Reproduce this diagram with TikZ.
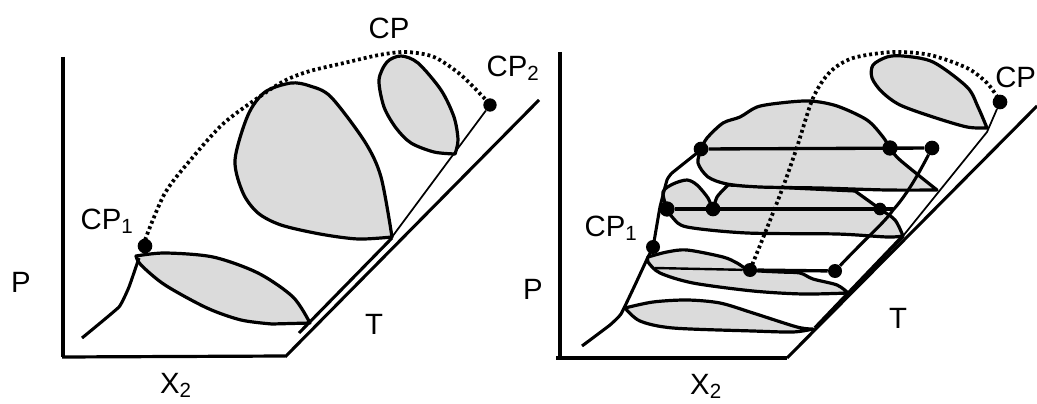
\documentclass[tikz,border=0pt]{standalone}
\usepackage{fontspec}
\setmainfont{Liberation Sans}
\usepackage{tikz}
\usetikzlibrary{positioning}

\begin{document}
\begin{tikzpicture}[x=0.75pt, y=-0.75pt,
    axisline/.style={line width=2.8pt, black},
    baseline/.style={line width=2.4pt, black},
    diagline/.style={line width=2.3pt, black},
    curveline/.style={line width=2.3pt, black, line join=round},
    thinline/.style={line width=1.3pt, black},
    tieline/.style={line width=2.5pt, black},
    blob/.style={draw=black, fill=gray!28, line width=2.4pt, line join=round},
    dotline/.style={line width=2.8pt, black, dash pattern=on 2.2pt off 2.2pt},
    dotnode/.style={circle, fill=black, minimum size=#1, inner sep=0pt},
    lbl/.style={font=\fontsize{22}{24}\selectfont, inner sep=0pt, anchor=base}
]
\useasboundingbox (0,0) rectangle (1037,403);

% left panel
\draw[axisline] (63,57) -- (63,357);
\draw[baseline] (62,357) -- (285,356);
\draw[diagline] (285,357) -- (539,100);
\draw[diagline] (299,333) -- (392,238);

\draw[blob] plot[smooth, tension=0.5] coordinates {(136,256) (165,253) (213,257) (258,273) (293,297) (310,323)}
    -- (272,324) -- plot[smooth, tension=0.5] coordinates {(272,324) (241,320) (207,308) (165,285) (141,265) (136,256)} -- cycle;
\draw[blob] plot[smooth, tension=0.5] coordinates {(392,237) (358,239) (320,234) (281,225) (258,213) (243,193) (235,160) (248,115) (265,92) (291,83) (310,86) (331,97) (365,142) (381,177) (392,237)} -- cycle;
\draw[blob] plot[smooth, tension=0.5] coordinates {(455,154) (434,152) (411,143) (396,128) (384,107) (379,80) (387,62) (401,56) (418,63) (441,90) (454,117) (458,140) (455,154)} -- cycle;

\draw[curveline] plot[smooth, tension=0.2] coordinates {(82,338) (119,307) (129,287) (139,258)};
\draw[dotline] plot[smooth] coordinates {(145,240) (165,193) (193,157) (224,123) (262,95) (286,80) (310,71) (344,63) (379,55) (406,52) (434,57) (461,75) (486,100)};

\node[dotnode=11pt] (lcpa) at (145,246) {};
\node[dotnode=10pt] (lcpb) at (490,105) {};
\coordinate (lend) at (392,237);
\draw[thinline] (lend) -- (lcpb);

\node[lbl] (lcp) at (389,39) {CP};
\node[lbl] (llabela) at (107,229) {CP\textsubscript{1}};
\node[lbl] (llabelb) at (513,76) {CP\textsubscript{2}};
\node[lbl] (lp) at (21,292) {P};
\node[lbl] (lt) at (374,334) {T};
\node[lbl] (lx) at (176,393) {X\textsubscript{2}};

% right panel
\draw[axisline] (560,52) -- (560,358);
\draw[axisline] (556,358) -- (787,358);
\draw[diagline] (787,358) -- (1037,106);
\draw[line width=2.8pt] (815,328) -- (903,236);

\draw[blob] plot[smooth, tension=0.5] coordinates {(625,308) (653,302) (687,300) (720,303) (753,313) (797,327) (813,329)}
    -- plot[smooth, tension=0.5] coordinates {(813,329) (793,332) (753,331) (673,328) (640,321) (625,308)} -- cycle;
\draw[blob] plot[smooth, tension=0.5] coordinates {(648,257) (667,252) (687,250) (723,257) (737,263) (750,270) (780,272) (800,273) (813,279) (837,285) (848,293)}
    -- plot[smooth, tension=0.5] coordinates {(848,293) (803,294) (753,291) (693,283) (660,273) (648,262) (648,257)} -- cycle;
\draw[blob] plot[smooth, tension=0.5] coordinates {(667,209) (663,192) (673,184) (687,180) (697,185) (708,198) (713,209) (717,197) (728,185)}
    -- (855,191) -- plot[smooth, tension=0.5] coordinates {(855,191) (880,209) (895,220) (903,236)}
    -- plot[smooth, tension=0.5] coordinates {(903,236) (887,237) (837,234) (747,233) (687,227) (673,218) (667,209)} -- cycle;
\draw[blob] plot[smooth, tension=0.5] coordinates {(701,149) (707,138) (723,123) (740,117) (757,107) (780,103) (810,101) (837,106) (867,120) (883,137) (890,148) (900,160) (937,190)}
    -- plot[smooth, tension=0.5] coordinates {(937,190) (887,190) (820,188) (760,187) (727,184) (708,177) (698,163) (701,149)} -- cycle;
\draw[blob] plot[smooth, tension=0.5] coordinates {(987,128) (967,127) (933,117) (900,105) (882,92) (872,78) (873,65) (887,57) (903,56) (933,62) (967,87) (978,107) (987,128)} -- cycle;

\draw[curveline] plot[smooth, tension=0.2] coordinates {(582,346) (610,325) (621,314) (635,285) (648,257) (653,247) (660,207) (667,180) (672,173) (697,153) (701,149)};
\draw[dotline] plot[smooth] coordinates {(750,270) (765,233) (783,187) (797,147) (813,98) (830,72) (853,58) (893,52) (930,55) (967,68) (987,83) (998,98)};

\foreach \n/\x/\y/\s in {ra/701/149/11, rb/890/148/11.5, rc/932/148/11, rd/667/209/11.5, re/713/209/11, rf/880/209/9.5,
    rg/653/247/10.5, rh/750/270/10.5, ri/835/271/10.5, rj/1000/102/11} {
    \node[dotnode=\s pt] (\n) at (\x,\y) {};
}
\coordinate (rtiea) at (893,209);
\coordinate (rtieb) at (655,268);
\coordinate (rkink) at (987,132);
\coordinate (rbase) at (903,236);

\draw[tieline] (ra) -- (rc);
\draw[tieline] (rd) -- (rtiea);
\draw[line width=1.8pt] (rtieb) -- (rh);
\draw[tieline] (rh) -- (ri);
\draw[curveline] (rc) .. controls (917,177) and (905,197) .. (893,210) .. controls (885,222) and (870,234) .. (ri);
\draw[thinline] (rj) -- (rkink) -- (rbase);

\node[lbl] (rlabela) at (611,236) {CP\textsubscript{1}};
\node[lbl, anchor=base west] (rlabelb) at (995,87) {CP\textsubscript{2}};
\node[lbl] (rp) at (533,299) {P};
\node[lbl] (rt) at (898,328) {T};
\node[lbl] (rx) at (706,394) {X\textsubscript{2}};

\end{tikzpicture}
\end{document}
